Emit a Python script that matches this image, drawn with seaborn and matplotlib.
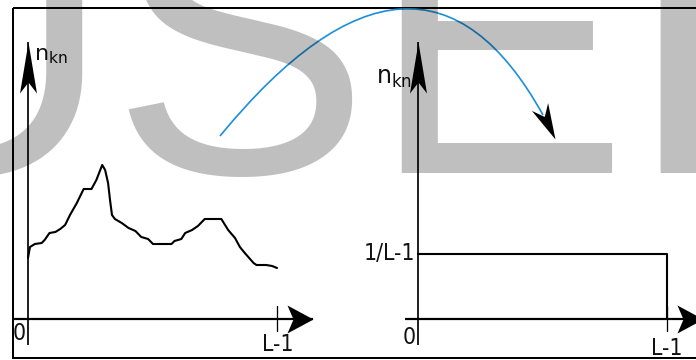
import matplotlib
matplotlib.use("Agg")
import matplotlib.pyplot as plt
import seaborn as sns
import pandas as pd
from matplotlib.path import Path
from matplotlib.markers import MarkerStyle
from matplotlib.transforms import Affine2D
from matplotlib.patches import PathPatch, Rectangle

# ---------------- data ----------------
L_MAX = 255  # L-1
input_levels = [0, 2, 7, 14, 17, 22, 28, 33, 38, 43, 50, 57, 65, 70, 74, 76, 79, 82, 84, 86,
                89, 96, 103, 110, 116, 123, 128, 147, 150, 157, 161, 168, 174, 181, 198, 205,
                212, 217, 222, 231, 234, 244, 250, 255]
input_counts = [61, 72, 75, 76, 79, 86, 87, 90, 94, 104, 116, 130, 130, 139, 149, 154, 149, 136,
                119, 104, 100, 96, 91, 88, 82, 80, 75, 75, 78, 80, 86, 89, 93, 100, 100, 89,
                81, 72, 66, 56, 54, 54, 53, 51]
uniform_levels = [0, 255, 255]
uniform_probs = [1 / 255, 1 / 255, 0]
x_tick_labels = ["0", "L-1"]
y_label = r"$\mathregular{n_{kn}}$"
level_label = "1/L-1"
watermark = "USER"

W, H = 696, 360
sns.set_style("white")
plt.rcParams["font.family"] = ["DejaVu Sans"]
fig = plt.figure(figsize=(W / 100, H / 100), dpi=100)
PT = 0.72  # points per pixel
PX = 249 / 255  # pixels per grey level
LAB = dict(family=["DejaVu Sans"], fontstretch="condensed", fontsize=16.5, color="#111111")


def stealth(length, half_w, notch, angle):
    verts = [(0, 0), (-length, half_w), (-notch, 0), (-length, -half_w), (0, 0)]
    codes = [Path.MOVETO, Path.LINETO, Path.LINETO, Path.LINETO, Path.CLOSEPOLY]
    return MarkerStyle(Path(verts, codes), transform=Affine2D().rotate_deg(angle)), 2 * length * PT


def panel(ox, ext_left, yunit):
    top, bottom, tip = 42, 345, 285
    rect = [(ox - ext_left) / W, (H - bottom) / H, (tip + ext_left) / W, (bottom - top) / H]
    ax = fig.add_axes(rect)
    ax.set_xlim(-ext_left / PX, tip / PX)
    ax.set_ylim(-(bottom - 319) * yunit, (319 - top) * yunit)
    ax.set_axis_off()
    ax.axhline(0, color="black", lw=2.2 * PT, zorder=2)
    ax.axvline(0, color="black", lw=1.7 * PT, zorder=2)
    m, ms = stealth(26, 14, 20, 0)
    ax.plot([1], [0], transform=ax.get_yaxis_transform(), marker=m, ms=ms, color="black",
            mew=0, clip_on=False, ls="none")
    m, ms = stealth(51, 8.5, 40, 90)
    ax.plot([0], [1], transform=ax.get_xaxis_transform(), marker=m, ms=ms, color="black",
            mew=0, clip_on=False, ls="none")
    ax.axvline(L_MAX, ymin=(bottom - 331) / (bottom - top), ymax=(bottom - 306) / (bottom - top),
               color="black", lw=1.3 * PT)
    return ax


# left panel: input histogram
axL = panel(28, 15, 1.0)
sns.lineplot(x=input_levels, y=input_counts, ax=axL, color="black", lw=2.1 * PT,
             estimator=None, sort=False)
axL.annotate(x_tick_labels[0], xy=(0, 0), xytext=(-9 * PT, -15 * PT), textcoords="offset points",
             ha="center", va="center", **LAB)
axL.annotate(x_tick_labels[1], xy=(L_MAX, 0), xytext=(1 * PT, -14 * PT), textcoords="offset points",
             ha="center", va="top", **LAB)
axL.annotate(y_label, xy=(0, 1), xycoords=("data", "axes fraction"), xytext=(6 * PT, -18 * PT),
             textcoords="offset points", ha="left", va="baseline", fontsize=16, color="#111111")

# right panel: equalised (uniform) histogram
yu = (1 / 255) / 65
axR = panel(418, 13, yu)
sns.lineplot(x=uniform_levels, y=uniform_probs, ax=axR, color="black", lw=2.1 * PT,
             estimator=None, sort=False)
axR.annotate(x_tick_labels[0], xy=(0, 0), xytext=(-9 * PT, -18 * PT), textcoords="offset points",
             ha="center", va="center", **LAB)
axR.annotate(x_tick_labels[1], xy=(L_MAX, 0), xytext=(0, -18 * PT), textcoords="offset points",
             ha="center", va="top", **LAB)
axR.annotate(level_label, xy=(0, uniform_probs[0]), xytext=(-3 * PT, 0), textcoords="offset points",
             ha="right", va="center", **LAB)
axR.annotate(y_label, xy=(0, 1), xycoords=("data", "axes fraction"), xytext=(-42 * PT, -42 * PT),
             textcoords="offset points", ha="left", va="baseline", fontsize=17, color="#111111")

# overlay: frame and curved transformation arrow (pixel coordinates)
ov = fig.add_axes([0, 0, 1, 1], zorder=3)
ov.set_xlim(0, W)
ov.set_ylim(H, 0)
ov.set_axis_off()
ov.add_patch(Rectangle((13, 8), 720, 350, fill=False, ec="black", lw=2 * PT))
arc = Path([(220, 136), (420, -107.5), (543, 115)], [Path.MOVETO, Path.CURVE3, Path.CURVE3])
ov.add_patch(PathPatch(arc, fc="none", ec="#1f90d8", lw=1.7 * PT))
m, ms = stealth(36, 9, 25, -64.5)
ov.plot([555], [139], marker=m, ms=ms, color="black", mew=0, ls="none")

# watermark
fig.text(-169 / W, 187 / H, watermark, fontsize=279.4, family=["Liberation Sans"], color="black",
         alpha=0.25, ha="left", va="baseline", zorder=10)

fig.savefig("out.png", dpi=100)
